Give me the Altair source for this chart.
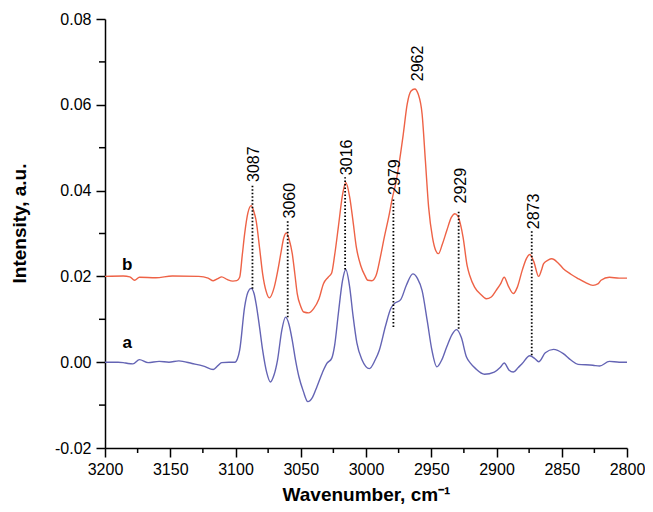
import altair as alt
import pandas as pd

# ---- spectrum a (lower, blue) ----
wn_a = [3200, 3190, 3186, 3182.4, 3178.6, 3173.6, 3167, 3158.5, 3151, 3143.4, 3133.3, 3124.5,
        3117, 3113.5, 3110.6, 3105, 3100.5, 3098.5, 3096.8, 3093, 3090.5, 3088, 3085.8, 3084.2,
        3081.5, 3079.2, 3076, 3073.3, 3070.5, 3067.8, 3064.5, 3061.6, 3059, 3056.5, 3054, 3051.4,
        3048, 3044.6, 3041, 3037.6, 3033.5, 3030, 3026.3, 3024, 3021.2, 3018, 3015.5, 3012.5,
        3010, 3007, 3003, 2997.4, 2993, 2989.8, 2985, 2981, 2978.5, 2973.4, 2969, 2964.1,
        2960.5, 2957, 2953, 2949.5, 2945.7, 2942, 2938.1, 2934, 2930.6, 2927, 2923, 2920,
        2916, 2909.2, 2901.7, 2897, 2894.1, 2890.5, 2887.1, 2883.5, 2880.3, 2874.5, 2870.5,
        2867.7, 2862.6, 2856.3, 2848.8, 2843, 2837.5, 2826.1, 2821, 2813.5, 2806, 2800]
int_a = [0.0, 0.0, -0.0001, -0.0003, -0.0004, 0.0006, -0.0001, 0.0002, 0.0, 0.0003, -0.0003, -0.0009,
         -0.0017, -0.0008, -0.0001, 0.0, 0.0, 0.0008, 0.0028, 0.0129, 0.0163, 0.0172, 0.016, 0.0136,
         0.008, 0.0028, -0.0025, -0.0046, -0.003, 0.0005, 0.0075, 0.0105, 0.0088, 0.0051, 0.0005, -0.0034,
         -0.0068, -0.0092, -0.0082, -0.0057, -0.0025, -0.0003, 0.0009, 0.004, 0.0113, 0.019, 0.0216, 0.0175,
         0.011, 0.0045, 0.0005, -0.0015, 0.0005, 0.0028, 0.0085, 0.0125, 0.0136, 0.0146, 0.018, 0.0206,
         0.0195, 0.0167, 0.0095, 0.0028, -0.0011, 0.0005, 0.0036, 0.0065, 0.0076, 0.0058, 0.0012, -0.0002,
         -0.0015, -0.0028, -0.0023, -0.0012, -0.0002, -0.0018, -0.0023, -0.0013, -0.0003, 0.0015, 0.0008,
         0.0001, 0.0022, 0.003, 0.002, 0.0005, -0.0005, -0.0007, -0.0009, 0.0002, 0.0, 0.0]

# ---- spectrum b (upper, orange) ----
wn_b = [3200, 3186, 3181, 3177.3, 3173.6, 3161, 3148.4, 3128.2, 3121, 3117, 3113.5, 3110.6,
        3106.5, 3102, 3099, 3096.8, 3094.8, 3093, 3090.5, 3088, 3086, 3084.2, 3081.5, 3079.2,
        3076.5, 3074.1, 3070.3, 3067.5, 3065.3, 3063, 3061, 3058.8, 3056.5, 3054.5, 3052.7, 3050,
        3047.7, 3044, 3040.1, 3036, 3032.6, 3029, 3026.3, 3024, 3021.2, 3018, 3015.5, 3012.5,
        3010, 3007.4, 3004, 3001, 2998.6, 2995.5, 2992.3, 2989, 2986, 2982.5, 2979.7, 2977,
        2974.7, 2971.5, 2968.4, 2965.5, 2962.6, 2960, 2957, 2954.5, 2952, 2949, 2946.5, 2944.5,
        2941.5, 2938.1, 2934.5, 2931.9, 2929.5, 2927.5, 2925.6, 2922.5, 2920.5, 2916.8, 2912, 2907.9,
        2904, 2900.4, 2897, 2894.1, 2891, 2887.1, 2884, 2880.3, 2877, 2874.5, 2871.5, 2867.7,
        2865.5, 2863.9, 2860.5, 2857.6, 2853, 2848.8, 2843, 2837.5, 2832, 2826.1, 2822, 2819.9,
        2813.5, 2806, 2800]
int_b = [0.02, 0.0201, 0.0199, 0.0191, 0.0198, 0.0197, 0.0201, 0.02, 0.0196, 0.019, 0.0195, 0.0199,
         0.0193, 0.0189, 0.019, 0.0198, 0.025, 0.0299, 0.0348, 0.0365, 0.0352, 0.033, 0.0265, 0.0206,
         0.0165, 0.015, 0.0175, 0.0215, 0.0253, 0.029, 0.0301, 0.0285, 0.0253, 0.0205, 0.016, 0.013,
         0.0117, 0.0115, 0.0125, 0.0148, 0.0183, 0.0198, 0.0208, 0.025, 0.0315, 0.039, 0.0419, 0.0385,
         0.033, 0.0268, 0.0225, 0.0203, 0.0191, 0.019, 0.0202, 0.0245, 0.0291, 0.034, 0.0384, 0.042,
         0.0462, 0.053, 0.0602, 0.0632, 0.0637, 0.0625, 0.0578, 0.047, 0.0361, 0.029, 0.026, 0.0253,
         0.0275, 0.0307, 0.0338, 0.0346, 0.034, 0.032, 0.0291, 0.0225, 0.0202, 0.0175, 0.0158, 0.0148,
         0.0152, 0.0167, 0.0182, 0.0198, 0.0178, 0.016, 0.0175, 0.0214, 0.0242, 0.0251, 0.0235, 0.02,
         0.0215, 0.023, 0.0238, 0.0241, 0.0232, 0.0218, 0.0205, 0.0195, 0.0186, 0.0179, 0.0183, 0.0191,
         0.0198, 0.0196, 0.0196]

# ---- peak markers (dotted lines) ----
peak_wn = [3087, 3060, 3016, 2979, 2929, 2873]
peak_low = [0.0171, 0.0105, 0.0216, 0.0082, 0.0078, 0.0016]
peak_high = [0.0416, 0.0330, 0.0431, 0.0384, 0.0353, 0.0307]

# ---- peak labels ----
label_text = ["3087", "3060", "3016", "2979", "2962", "2929", "2873"]
label_wn = [3087, 3060, 3016, 2979, 2962, 2929, 2873]
label_y = [0.0420, 0.0335, 0.0436, 0.0390, 0.0655, 0.0370, 0.0310]

# ---- curve names ----
curve_names = ["b", "a"]
curve_name_wn = [3183, 3183]
curve_name_y = [0.0214, 0.0033]

# ---- axis ticks ----
x_major = [3200, 3150, 3100, 3050, 3000, 2950, 2900, 2850, 2800]
x_minor = [3175, 3125, 3075, 3025, 2975, 2925, 2875, 2825]
y_major = [-0.02, 0.0, 0.02, 0.04, 0.06, 0.08]
y_minor = [-0.01, 0.01, 0.03, 0.05, 0.07]

BLUE = "#6464B4"
ORANGE = "#EE6246"
FONT = "Liberation Sans"

df = pd.concat([
    pd.DataFrame({"wn": wn_a, "val": int_a, "s": "a"}),
    pd.DataFrame({"wn": wn_b, "val": int_b, "s": "b"}),
])

xs = alt.Scale(domain=[2800, 3200], reverse=True, nice=False, zero=False)
ys = alt.Scale(domain=[-0.02, 0.08], nice=False, zero=False)

X_AX = alt.Axis(
    values=x_major, format="d", tickSize=9, tickWidth=1.5, tickColor="black",
    domainColor="black", domainWidth=1.5, labelPadding=4, labelFontSize=16,
    labelFont=FONT, labelColor="black", labelFlush=False, labelOverlap=False,
    grid=False, title="Wavenumber, cm⁻¹", titleFont=FONT, titleFontSize=19,
    titleFontWeight="bold", titleColor="black", titleY=37, titleBaseline="top")
Y_AX = alt.Axis(
    values=y_major, tickSize=9, tickWidth=1.5, tickColor="black",
    domainColor="black", domainWidth=1.5, labelPadding=5, labelFontSize=16,
    labelFont=FONT, labelColor="black", labelFlush=False, labelOverlap=False,
    labelExpr="datum.value < -0.0001 ? '-' + format(-datum.value, '.2f') : format(abs(datum.value), '.2f')",
    grid=False, title="Intensity, a.u.", titleFont=FONT, titleFontSize=19,
    titleFontWeight="bold", titleColor="black", titleX=-80, titleY=204,
    titleBaseline="alphabetic", titleAngle=270, titleAlign="center")


def X(field):
    return alt.X(field, type="quantitative", scale=xs, axis=X_AX)


def Y(field):
    return alt.Y(field, type="quantitative", scale=ys, axis=Y_AX)


lines = alt.Chart(df).mark_line(interpolate="monotone", strokeWidth=1.4).encode(
    x=X("wn"),
    y=Y("val"),
    color=alt.Color("s:N", scale=alt.Scale(domain=["a", "b"], range=[BLUE, ORANGE]), legend=None),
    detail="s:N",
)

pk = pd.DataFrame({"wn": peak_wn, "val": peak_low, "hi": peak_high})
rules = alt.Chart(pk).mark_rule(color="black", strokeWidth=1.8, strokeDash=[1.5, 2]).encode(
    x=X("wn"),
    y=Y("val"),
    y2="hi:Q",
)

lb = pd.DataFrame({"wn": label_wn, "val": label_y, "t": label_text})
labels = alt.Chart(lb).mark_text(angle=270, align="left", baseline="middle", fontSize=16,
                                  font=FONT, color="black", dy=2).encode(
    x=X("wn"),
    y=Y("val"),
    text="t:N",
)

cn = pd.DataFrame({"wn": curve_name_wn, "val": curve_name_y, "t": curve_names})
names = alt.Chart(cn).mark_text(align="center", baseline="alphabetic", fontSize=17,
                                 fontWeight="bold", font=FONT, color="black").encode(
    x=X("wn"),
    y=Y("val"),
    text="t:N",
)

xm = pd.DataFrame({"wn": x_minor})
xminor = alt.Chart(xm).mark_rule(color="black", strokeWidth=1.5).encode(
    x=X("wn"),
    y=alt.value(429), y2=alt.value(434),
)

ym = pd.DataFrame({"val": y_minor})
yminor = alt.Chart(ym).mark_rule(color="black", strokeWidth=1.5).encode(
    y=Y("val"),
    x=alt.value(0), x2=alt.value(-6),
)

chart = alt.layer(lines, rules, labels, names, xminor, yminor).properties(
    width=522, height=429,
    padding={"left": 97, "top": 11, "right": 18, "bottom": 56},
    autosize="none",
    background="white",
).configure_view(stroke=None)

chart.save("out.html", embed_options={"renderer": "svg", "actions": False})
